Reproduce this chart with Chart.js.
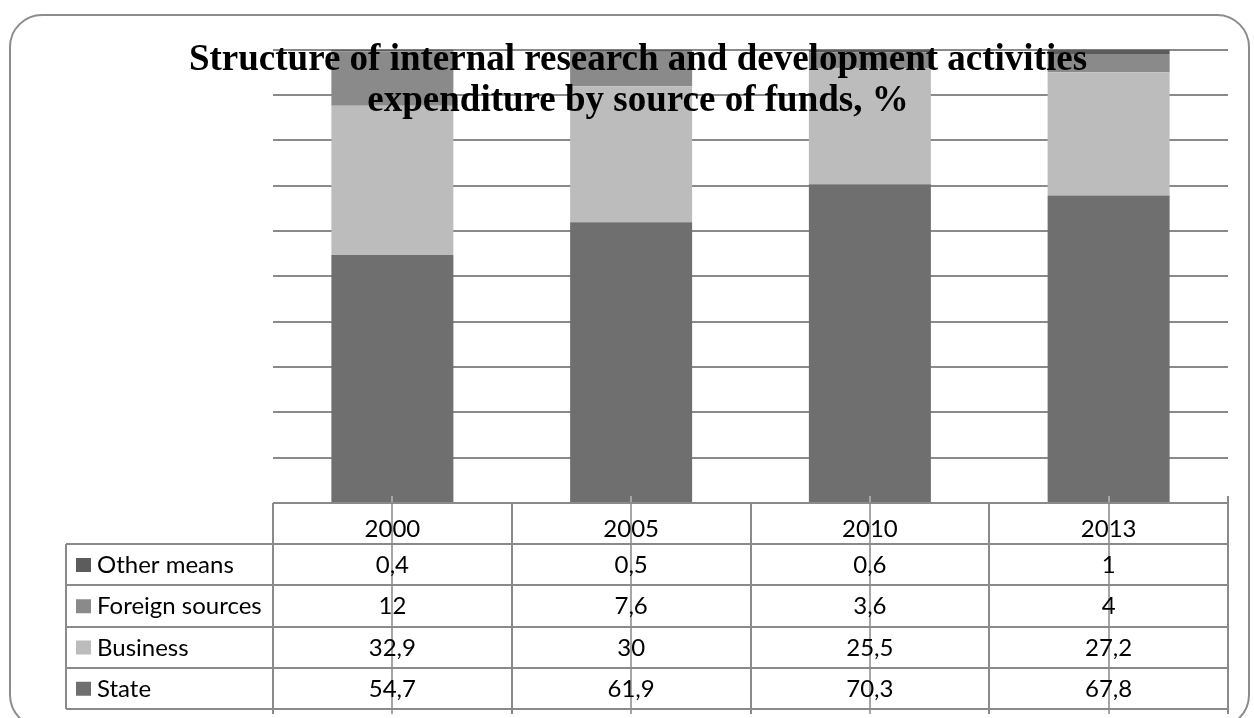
<!DOCTYPE html>
<html>
<head>
<meta charset="utf-8">
<script src="https://cdn.jsdelivr.net/npm/chart.js@4.4.0/dist/chart.umd.min.js"></script>
<style>
html,body{margin:0;padding:0;background:#fff;overflow:hidden;}
#wrap{width:1254px;height:718px;position:relative;}
canvas{display:block;}
</style>
</head>
<body>
<div id="wrap"><canvas id="c" width="1254" height="718"></canvas></div>
<script>
// ---- data ----
const categories = ['2000', '2005', '2010', '2013'];
const stateValues = [54.7, 61.9, 70.3, 67.8];
const businessValues = [32.9, 30, 25.5, 27.2];
const foreignValues = [12, 7.6, 3.6, 4];
const otherValues = [0.4, 0.5, 0.6, 1];
const seriesNames = ['State', 'Business', 'Foreign sources', 'Other means'];
const titleLines = ['Structure of internal research and development activities', 'expenditure by source of funds, %'];
const yTicks = [0, 10, 20, 30, 40, 50, 60, 70, 80, 90, 100];

// ---- styles ----
const seriesColors = ['#6f6f6f', '#bcbcbc', '#8a8a8a', '#5c5c5c'];
const lineColor = '#8a8a8a';
const tableFont = '24px Lato';

const datasets = [stateValues, businessValues, foreignValues, otherValues].map((vals, i) => ({
  label: seriesNames[i],
  data: vals,
  backgroundColor: seriesColors[i],
  borderWidth: 0,
  barPercentage: 0.511,
  categoryPercentage: 1.0
}));

const fmt = v => String(v).replace('.', ',');

const framePlugin = {
  id: 'frame',
  beforeDraw(chart) {
    const ctx = chart.ctx;
    ctx.save();
    ctx.fillStyle = '#fff';
    ctx.fillRect(0, 0, chart.width, chart.height);
    ctx.strokeStyle = '#8c8c8c';
    ctx.lineWidth = 2;
    ctx.beginPath();
    ctx.roundRect(10, 15, 1239, 712, 32);
    ctx.stroke();
    ctx.restore();
  }
};

const titlePlugin = {
  id: 'overTitle',
  afterDatasetsDraw(chart) {
    const ctx = chart.ctx;
    ctx.save();
    ctx.fillStyle = '#000';
    ctx.font = 'bold 37px "Liberation Serif"';
    ctx.textAlign = 'center';
    ctx.textBaseline = 'alphabetic';
    ctx.fillText(titleLines[0], 638, 70);
    ctx.fillText(titleLines[1], 638, 111);
    ctx.restore();
  }
};

const tablePlugin = {
  id: 'dataTable',
  afterDraw(chart) {
    const ctx = chart.ctx;
    const xs = chart.scales.x;
    const n = categories.length;
    const left = xs.left, right = xs.right;
    const catW = (right - left) / n;
    const axisY = chart.scales.y.getPixelForValue(0);
    const legendLeft = 66;
    const headerBottom = 544;
    const rowH = 41.25;
    const rows = [
      {name: seriesNames[3], vals: otherValues, color: seriesColors[3]},
      {name: seriesNames[2], vals: foreignValues, color: seriesColors[2]},
      {name: seriesNames[1], vals: businessValues, color: seriesColors[1]},
      {name: seriesNames[0], vals: stateValues, color: seriesColors[0]}
    ];
    const tableBottom = headerBottom + rowH * rows.length;
    ctx.save();
    // center tick lines
    ctx.strokeStyle = '#a6a6a6';
    ctx.lineWidth = 2;
    for (let i = 0; i < n; i++) {
      const cx = Math.round(xs.getPixelForValue(i));
      ctx.beginPath();
      ctx.moveTo(cx, axisY - 7);
      ctx.lineTo(cx, tableBottom + 5);
      ctx.stroke();
    }
    ctx.strokeStyle = lineColor;
    ctx.lineWidth = 2;
    // header top
    ctx.beginPath();
    ctx.moveTo(left, axisY);
    ctx.lineTo(right, axisY);
    ctx.stroke();
    // row lines
    for (let r = 0; r <= rows.length; r++) {
      const y = Math.round(headerBottom + rowH * r);
      ctx.beginPath();
      ctx.moveTo(legendLeft, y);
      ctx.lineTo(right, y);
      ctx.stroke();
    }
    // vertical lines
    ctx.beginPath();
    ctx.moveTo(legendLeft, headerBottom);
    ctx.lineTo(legendLeft, tableBottom);
    ctx.stroke();
    for (let i = 0; i <= n; i++) {
      const x = Math.round(left + catW * i);
      ctx.beginPath();
      ctx.moveTo(x, i === n ? axisY - 7 : axisY);
      ctx.lineTo(x, tableBottom + 5);
      ctx.stroke();
    }
    // text
    ctx.fillStyle = '#000';
    ctx.font = tableFont;
    ctx.textBaseline = 'alphabetic';
    ctx.textAlign = 'center';
    for (let i = 0; i < n; i++) {
      ctx.fillText(categories[i], xs.getPixelForValue(i), axisY + 34);
    }
    rows.forEach((row, r) => {
      const top = headerBottom + rowH * r;
      ctx.fillStyle = row.color;
      ctx.fillRect(76, top + 14, 15, 14);
      ctx.fillStyle = '#000';
      ctx.textAlign = 'left';
      ctx.fillText(row.name, 97, top + 29);
      ctx.textAlign = 'center';
      row.vals.forEach((v, i) => {
        ctx.fillText(fmt(v), xs.getPixelForValue(i), top + 29);
      });
    });
    ctx.restore();
  }
};

new Chart(document.getElementById('c'), {
  type: 'bar',
  data: { labels: categories, datasets },
  options: {
    responsive: false,
    animation: false,
    devicePixelRatio: 1,
    layout: { padding: { left: 273, right: 26, top: 49.5, bottom: 215 } },
    plugins: { legend: { display: false }, tooltip: { enabled: false }, title: { display: false } },
    scales: {
      x: {
        stacked: true,
        grid: { display: false },
        border: { display: false },
        ticks: { display: false },
        afterFit: s => { s.height = 0; }
      },
      y: {
        stacked: true,
        min: 0, max: 100,
        afterBuildTicks: s => { s.ticks = yTicks.map(v => ({ value: v })); },
        ticks: { display: false },
        border: { display: false },
        grid: { color: lineColor, lineWidth: 2, drawTicks: false },
        afterFit: s => { s.width = 0; }
      }
    }
  },
  plugins: [framePlugin, titlePlugin, tablePlugin]
});
</script>
</body>
</html>
